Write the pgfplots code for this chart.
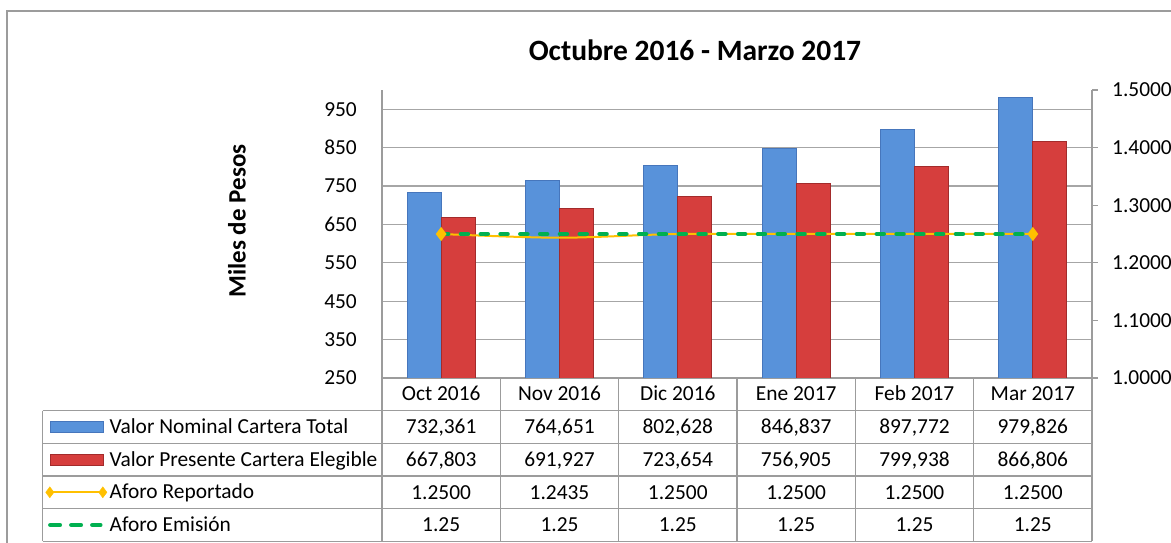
\documentclass[border=0pt]{standalone}
\usepackage{fontspec}
\setmainfont{Carlito}
\usepackage{pgfplots}
\pgfplotsset{compat=1.18}
\definecolor{gridgray}{HTML}{A6A6A6}
\definecolor{axgray}{HTML}{9C9C9C}
\definecolor{blueF}{HTML}{5892DA}
\definecolor{blueD}{HTML}{4676BC}
\definecolor{redF}{HTML}{D63E3D}
\definecolor{redD}{HTML}{A32B2B}
\definecolor{aforoOr}{HTML}{FFC000}
\definecolor{aforoGr}{HTML}{00B050}
\newcommand{\bodyfont}{\fontsize{21.4}{25}\selectfont}
\begin{document}
\begin{tikzpicture}
\useasboundingbox (0,0) rectangle (1171pt,543pt);
% chart frame
\draw[axgray, line width=1.5pt] (7pt,0pt) -- (7pt,532pt) -- (1171pt,532pt);
% title
\node[font=\fontsize{29.5}{32}\selectfont\bfseries, anchor=base] at (695pt,482pt) {Octubre 2016 - Marzo 2017};
% y axis title
\node[font=\fontsize{25}{28}\selectfont\bfseries, rotate=90, anchor=center] at (237pt,322pt) {Miles de Pesos};

\begin{axis}[
  at={(382pt,165pt)}, anchor=south west, scale only axis,
  width=710pt, height=288pt,
  xmin=-0.5, xmax=5.5, ymin=250, ymax=1000,
  xtick={0,1,2,3,4,5},
  xticklabels={Oct 2016,Nov 2016,Dic 2016,Ene 2017,Feb 2017,Mar 2017},
  ytick={250,350,450,550,650,750,850,950},
  axis x line*=bottom, axis y line*=left,
  axis line style={axgray, line width=1.5pt, -},
  ymajorgrids, grid style={gridgray, line width=1.2pt},
  major tick length=0pt,
  tick label style={font=\bodyfont},
  /pgf/number format/assume math mode=true,
  xticklabel style={anchor=base, inner sep=0pt, yshift=-23pt},
  yticklabel style={anchor=east, inner sep=0pt, xshift=-25pt},
  ybar=0pt, bar width=34pt,
]
\addplot[ybar, bar shift=-17pt, draw=blueD, line width=0.8pt, fill=blueF]
  coordinates {(0,732.361) (1,764.651) (2,802.628) (3,846.837) (4,897.772) (5,979.826)};
\addplot[ybar, bar shift=17pt, draw=redD, line width=0.8pt, fill=redF]
  coordinates {(0,667.803) (1,691.927) (2,723.654) (3,756.905) (4,799.938) (5,866.806)};
\end{axis}

\begin{axis}[
  at={(382pt,165pt)}, anchor=south west, scale only axis,
  width=710pt, height=288pt,
  xmin=-0.5, xmax=5.5, ymin=1, ymax=1.5,
  ytick={1,1.1,1.2,1.3,1.4,1.5},
  axis x line=none, axis y line*=right,
  axis line style={axgray, line width=1.5pt, -},
  tick style={axgray, line width=1.2pt},
  major tick length=6pt, tick align=outside,
  tick label style={font=\bodyfont},
  yticklabel style={anchor=west, inner sep=0pt, xshift=14pt,
    /pgf/number format/.cd, fixed, fixed zerofill, precision=4, assume math mode=true},
  legend cell align=left,
  legend style={at={(axis description cs:-0.4739,-0.1135)}, anchor=north west,
    draw=none, fill=none, inner sep=0pt, outer sep=0pt, row sep=0pt, column sep=2.5pt,
    font=\bodyfont, nodes={inner sep=0pt, text height=22.9pt, text depth=9.75pt}},
]
\addplot[aforoOr, line width=2pt, smooth, mark=diamond*, mark indices={1,6}, mark size=5.5pt,
  mark options={solid, fill=aforoOr, draw=aforoOr}, forget plot]
  coordinates {(0,1.25) (1,1.2435) (2,1.25) (3,1.25) (4,1.25) (5,1.25)};
\addplot[aforoGr, line width=4.5pt, line cap=round, dash pattern=on 7pt off 12.8pt, forget plot]
  coordinates {(0,1.25) (1,1.25) (2,1.25) (3,1.25) (4,1.25) (5,1.25)};
\addlegendimage{legend image code/.code={\draw[blueD, line width=0.8pt, fill=blueF] (5pt,-5.5pt) rectangle (58pt,5.5pt);}}
\addlegendentry{Valor Nominal Cartera Total}
\addlegendimage{legend image code/.code={\draw[redD, line width=0.8pt, fill=redF] (5pt,-5.5pt) rectangle (58pt,5.5pt);}}
\addlegendentry{Valor Presente Cartera Elegible}
\addlegendimage{legend image code/.code={\draw[aforoOr, line width=2pt] (4.5pt,0pt) -- (57.5pt,0pt);
  \fill[aforoOr] (4.5pt,5.5pt) -- (8.6pt,0pt) -- (4.5pt,-5.5pt) -- (0.4pt,0pt) -- cycle;
  \fill[aforoOr] (57.5pt,5.5pt) -- (61.6pt,0pt) -- (57.5pt,-5.5pt) -- (53.4pt,0pt) -- cycle;}}
\addlegendentry{Aforo Reportado}
\addlegendimage{legend image code/.code={\draw[aforoGr, line width=4.5pt, line cap=round, dash pattern=on 9.5pt off 11.5pt] (5pt,0pt) -- (55pt,0pt);}}
\addlegendentry{Aforo Emisión}
\end{axis}

% data table grid
\begin{scope}[axgray, line width=1.5pt]
\foreach \yy in {132.3,99.7,67,34.3,1.7} \draw (42.7pt,\yy pt) -- (1092pt,\yy pt);
\draw (42.7pt,132.3pt) -- (42.7pt,1.7pt);
\foreach \xx in {382,500.3,618.7,737,855.3,973.7,1092} \draw (\xx pt,165pt) -- (\xx pt,1.7pt);
\end{scope}
% table values
\begin{scope}[every node/.style={font=\bodyfont, anchor=base, inner sep=0pt}]
\node at (441.2pt,109.2pt) {732,361};
\node at (559.5pt,109.2pt) {764,651};
\node at (677.8pt,109.2pt) {802,628};
\node at (796.2pt,109.2pt) {846,837};
\node at (914.5pt,109.2pt) {897,772};
\node at (1032.8pt,109.2pt) {979,826};
\node at (441.2pt,76.55pt) {667,803};
\node at (559.5pt,76.55pt) {691,927};
\node at (677.8pt,76.55pt) {723,654};
\node at (796.2pt,76.55pt) {756,905};
\node at (914.5pt,76.55pt) {799,938};
\node at (1032.8pt,76.55pt) {866,806};
\node at (441.2pt,43.85pt) {1.2500};
\node at (559.5pt,43.85pt) {1.2435};
\node at (677.8pt,43.85pt) {1.2500};
\node at (796.2pt,43.85pt) {1.2500};
\node at (914.5pt,43.85pt) {1.2500};
\node at (1032.8pt,43.85pt) {1.2500};
\node at (441.2pt,11.2pt) {1.25};
\node at (559.5pt,11.2pt) {1.25};
\node at (677.8pt,11.2pt) {1.25};
\node at (796.2pt,11.2pt) {1.25};
\node at (914.5pt,11.2pt) {1.25};
\node at (1032.8pt,11.2pt) {1.25};
\end{scope}
\end{tikzpicture}
\end{document}
